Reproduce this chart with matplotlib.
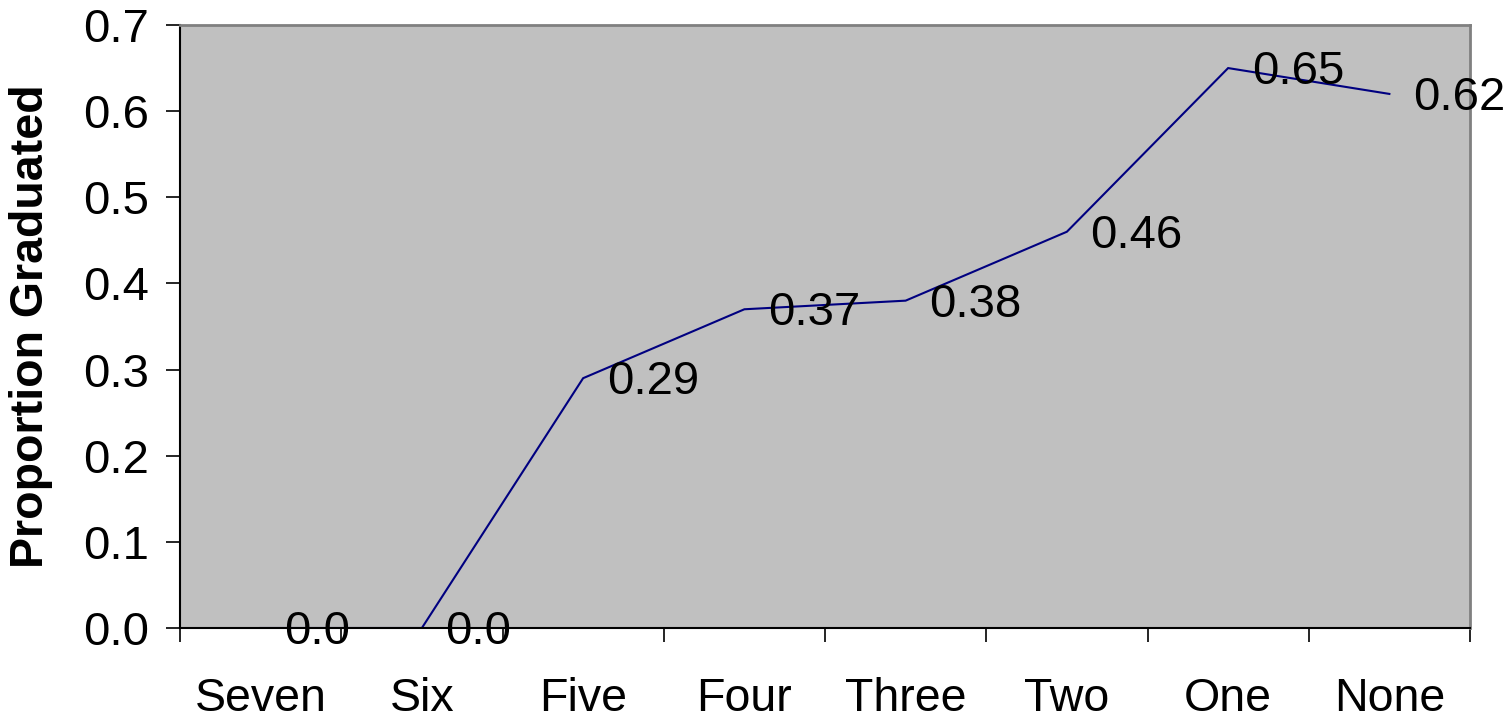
import matplotlib
matplotlib.use("Agg")
import matplotlib.pyplot as plt
from matplotlib.ticker import FixedLocator, FormatStrFormatter

plt.rcParams['font.family'] = ['Liberation Sans', 'DejaVu Sans']

categories = ["Seven", "Six", "Five", "Four", "Three", "Two", "One", "None"]
proportion = [0.0, 0.0, 0.29, 0.37, 0.38, 0.46, 0.65, 0.62]
y_ticks = [0.0, 0.1, 0.2, 0.3, 0.4, 0.5, 0.6, 0.7]

fig = plt.figure(figsize=(15.09, 7.19), dpi=100)
ax = fig.add_axes([180 / 1509, 1 - 628 / 719, 1290 / 1509, 603 / 719])
ax.set_facecolor("#C0C0C0")

x = list(range(len(categories)))
ax.plot(x, proportion, color="#000080", linewidth=1.5, solid_joinstyle="miter")

for xi, v in zip(x, proportion):
    label = "0.0" if v == 0 else f"{v:.2f}"
    ax.annotate(label, (xi, v), xytext=(17, -3), textcoords="offset points",
                ha="left", va="center", fontsize=34, color="black",
                annotation_clip=False)

ax.set_xlim(-0.5, len(categories) - 0.5)
ax.set_ylim(0, 0.7)

ax.xaxis.set_major_locator(FixedLocator(x))
ax.set_xticklabels(categories, fontsize=33.5)
ax.xaxis.set_minor_locator(FixedLocator([i - 0.5 for i in range(len(categories) + 1)]))
ax.tick_params(axis="x", which="major", length=0, pad=35)
ax.tick_params(axis="x", which="minor", length=10, width=1.2, direction="out", color="black")

ax.yaxis.set_major_locator(FixedLocator(y_ticks))
ax.yaxis.set_major_formatter(FormatStrFormatter("%.1f"))
ax.tick_params(axis="y", which="major", length=10, width=1.2, direction="out",
               labelsize=34, pad=12, color="black")

ax.set_ylabel("Proportion Graduated", fontsize=33.5, fontweight="bold", labelpad=22)

for side in ("top", "right"):
    ax.spines[side].set_color("#808080")
    ax.spines[side].set_linewidth(2)
for side in ("left", "bottom"):
    ax.spines[side].set_color("black")
    ax.spines[side].set_linewidth(1.5)

fig.savefig("out.png", dpi=100, facecolor="white")
